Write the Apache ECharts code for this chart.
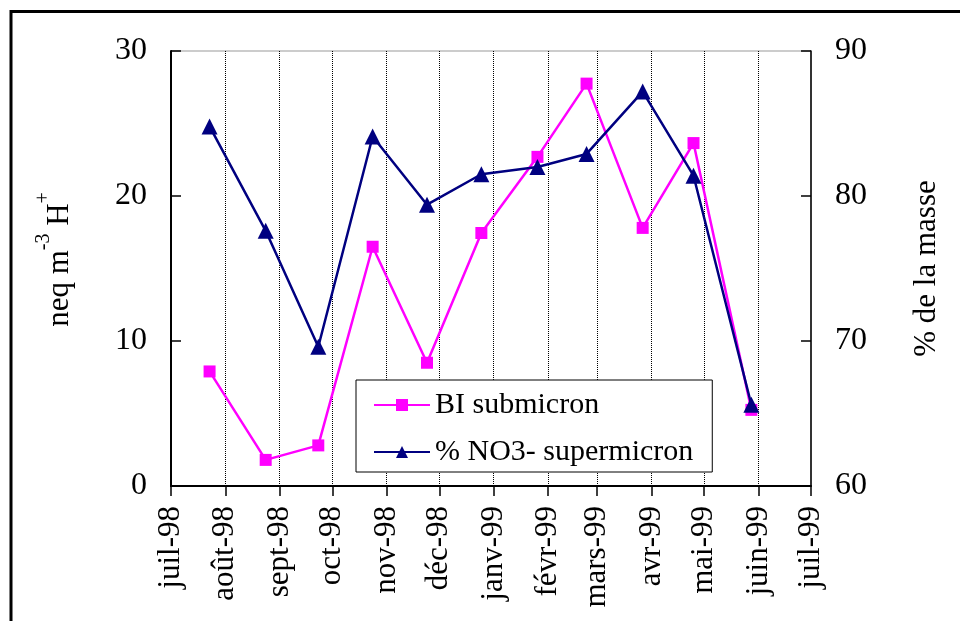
<!DOCTYPE html>
<html>
<head>
<meta charset="utf-8">
<script src="https://cdn.jsdelivr.net/npm/echarts@6/dist/echarts.min.js"></script>
<style>
html,body{margin:0;padding:0;background:#fff;}
#c{width:960px;height:621px;}
</style>
</head>
<body>
<div id="c"></div>
<script>
// ---- data ----
var sampleDates = ['1998-07-23','1998-08-24','1998-09-23','1998-10-24','1998-11-24','1998-12-25','1999-01-26','1999-02-23','1999-03-27','1999-04-25','1999-05-28'];
var biSubmicron = [7.9, 1.8, 2.8, 16.5, 8.5, 17.45, 22.7, 27.75, 17.8, 23.65, 5.25];
var no3Supermicron = [84.8, 77.6, 69.6, 84.1, 79.4, 81.5, 82.0, 82.9, 87.2, 81.4, 65.6];
var monthStarts = ['1998-07-01','1998-08-01','1998-09-01','1998-10-01','1998-11-01','1998-12-01','1999-01-01','1999-02-01','1999-03-01','1999-04-01','1999-05-01','1999-06-01','1999-07-01'];
var monthLabels = ['juil-98','août-98','sept-98','oct-98','nov-98','déc-98','janv-99','févr-99','mars-99','avr-99','mai-99','juin-99','juil-99'];
var leftTicks = [0, 10, 20, 30];
var rightTicks = [60, 70, 80, 90];
var seriesNames = ['BI submicron', '% NO3- supermicron'];

function ts(s){ return new Date(s + 'T00:00:00Z').getTime(); }
var monthTs = monthStarts.map(ts);
var FONT = 'Liberation Serif';

var chart = echarts.init(document.getElementById('c'));
chart.setOption({
  animation: false,
  backgroundColor: '#fff',
  graphic: [{
    type: 'rect', silent: true, z: 100,
    shape: {x: 11, y: 11.5, width: 1000, height: 700},
    style: {fill: 'none', stroke: '#000', lineWidth: 3}
  }],
  grid: {left: 171, right: 149, top: 51, bottom: 135, show: true, borderColor: '#999', borderWidth: 1, backgroundColor: 'transparent'},
  legend: {
    orient: 'vertical', left: 356, top: 380,
    padding: [8, 19, 3, 17], itemGap: 13,
    itemWidth: 56, itemHeight: 15,
    backgroundColor: '#fff', borderColor: '#000', borderWidth: 1,
    textStyle: {fontFamily: FONT, fontSize: 30, color: '#000', lineHeight: 34},
    data: seriesNames
  },
  xAxis: {
    type: 'value',
    min: monthTs[0], max: monthTs[monthTs.length - 1],
    axisLine: {lineStyle: {color: '#000', width: 2}},
    axisTick: {show: true, inside: false, length: 10, customValues: monthTs, lineStyle: {color: '#000', width: 1.5}},
    axisLabel: {
      customValues: monthTs, rotate: 90, margin: 20,
      fontFamily: FONT, fontSize: 31, color: '#000',
      formatter: function (v) { var i = monthTs.indexOf(v); return i >= 0 ? monthLabels[i] : ''; }
    },
    splitLine: {show: false}
  },
  yAxis: [{
    type: 'value', min: leftTicks[0], max: leftTicks[leftTicks.length - 1], interval: 10, position: 'left',
    name: '{a|neq m}{sup|-3}{a| H}{sup|+}', nameLocation: 'middle', nameGap: 96, nameRotate: 90,
    nameTextStyle: {
      fontFamily: FONT, color: '#000', padding: [0, 0, 0, 18],
      rich: {
        a: {fontFamily: FONT, fontSize: 31, color: '#000', lineHeight: 41, verticalAlign: 'bottom'},
        sup: {fontFamily: FONT, fontSize: 20, color: '#000', lineHeight: 20, verticalAlign: 'top'}
      }
    },
    axisLine: {show: true, lineStyle: {color: '#000', width: 2}},
    axisTick: {show: true, inside: true, length: 10, lineStyle: {color: '#000', width: 1.5}},
    axisLabel: {fontFamily: FONT, fontSize: 32, color: '#000', margin: 24},
    splitLine: {show: false}
  }, {
    type: 'value', min: rightTicks[0], max: rightTicks[rightTicks.length - 1], interval: 10, position: 'right',
    name: '% de la masse', nameLocation: 'middle', nameGap: 100, nameRotate: 90,
    nameTextStyle: {fontFamily: FONT, fontSize: 31, color: '#000'},
    axisLine: {show: true, lineStyle: {color: '#000', width: 1.5}},
    axisTick: {show: true, inside: true, length: 10, lineStyle: {color: '#000', width: 1.5}},
    axisLabel: {fontFamily: FONT, fontSize: 32, color: '#000', margin: 24},
    splitLine: {show: false}
  }],
  series: [{
    name: seriesNames[0], type: 'line', yAxisIndex: 0,
    data: sampleDates.map(function (d, i) { return [ts(d), biSubmicron[i]]; }),
    symbol: 'rect', symbolSize: 12,
    itemStyle: {color: '#FF00FF'},
    lineStyle: {color: '#FF00FF', width: 2.5},
    markLine: {
      silent: true, symbol: 'none', label: {show: false}, z: 1,
      lineStyle: {color: '#000', type: 'dotted', width: 1},
      data: monthTs.slice(1, -1).map(function (t) { return {xAxis: t}; })
    }
  }, {
    name: seriesNames[1], type: 'line', yAxisIndex: 1,
    data: sampleDates.map(function (d, i) { return [ts(d), no3Supermicron[i]]; }),
    symbol: 'triangle', symbolSize: 16,
    itemStyle: {color: '#000080'},
    lineStyle: {color: '#000080', width: 2.5}
  }]
});
</script>
</body>
</html>
